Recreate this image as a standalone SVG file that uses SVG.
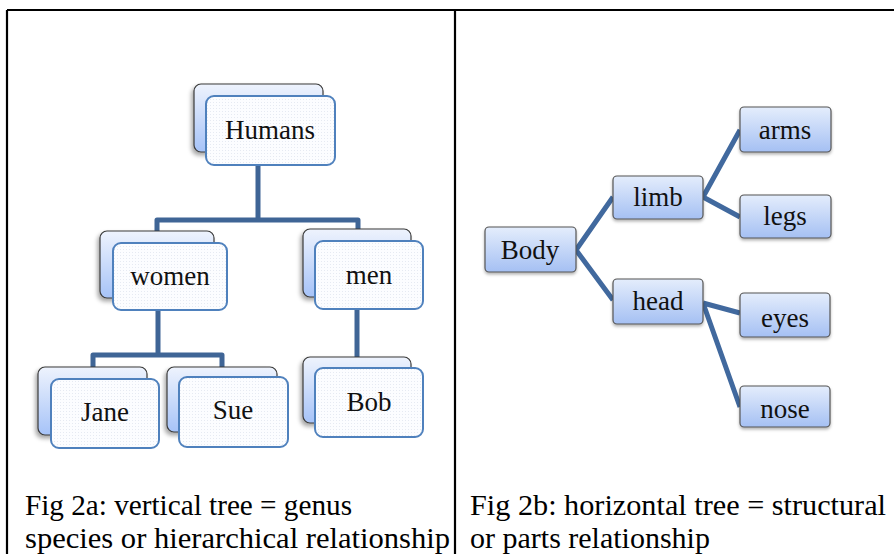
<svg xmlns="http://www.w3.org/2000/svg" width="894" height="554" viewBox="0 0 894 554">
<style>
.frame{stroke:#000;stroke-width:2.2;fill:none}
.t{font-family:'Liberation Serif','Times New Roman',serif;font-size:27px;fill:#111;text-anchor:middle}
.cap{font-family:'Liberation Serif','Times New Roman',serif;font-size:30px;fill:#000}
.back{fill:url(#gBack);stroke:#3a3a3a;stroke-width:1.2;filter:url(#sh)}
.front{fill:url(#dots);stroke:#4f81bd;stroke-width:2}
.box{fill:url(#gBox);stroke:#555;stroke-width:1.2;filter:url(#sh2)}
.cl{fill:none;stroke:#3f6596;stroke-width:5;stroke-linejoin:round}
.cr{fill:none;stroke:#41699e;stroke-width:5;stroke-linecap:butt}
</style>
<defs>
<linearGradient id="gBack" x1="0" y1="0" x2="0" y2="1">
<stop offset="0" stop-color="#eef3fd"/><stop offset="1" stop-color="#a6c3f8"/>
</linearGradient>
<linearGradient id="gBox" x1="0" y1="0" x2="0" y2="1">
<stop offset="0" stop-color="#e4edfc"/><stop offset="1" stop-color="#a5c0f3"/>
</linearGradient>
<pattern id="dots" width="3" height="3" patternUnits="userSpaceOnUse">
<rect width="3" height="3" fill="#fcfdff"/><rect width="1" height="1" fill="#e6eaf2"/>
</pattern>
<filter id="sh" x="-20%" y="-20%" width="140%" height="150%">
<feDropShadow dx="-2" dy="3" stdDeviation="2" flood-color="#000" flood-opacity="0.35"/>
</filter>
<filter id="sh2" x="-20%" y="-20%" width="140%" height="150%">
<feDropShadow dx="0" dy="2" stdDeviation="1.5" flood-color="#000" flood-opacity="0.3"/>
</filter>
</defs>
<rect width="894" height="554" fill="#fff"/>
<g id="frame">
<path class="frame" d="M7,10 H894 M7,10 V554 M455,10 V554"/>
</g>
<g id="connectors">
<path class="cl" d="M258,160 V220 M157,234 V220 H358 V234"/>
<path class="cl" d="M158,305 V355 M93,370 V355 H222 V370"/>
<path class="cl" d="M357,305 V360"/>
<path class="cr" d="M576,250 L613,197 M576,250 L613,300"/>
<path class="cr" d="M703,197 L740,130 M703,197 L740,217"/>
<path class="cr" d="M703,303 L740,313 M703,303 L740,407"/>
</g>
<g id="humans">
<rect class="back" x="194" y="84" width="129" height="68" rx="7"/>
<rect class="front" x="206" y="96" width="129" height="69" rx="8"/>
<text class="t" x="270" y="139">Humans</text>
</g>
<g id="women">
<rect class="back" x="100" y="231" width="114" height="67" rx="7"/>
<rect class="front" x="113" y="243" width="114" height="67" rx="8"/>
<text class="t" x="170" y="285">women</text>
</g>
<g id="men">
<rect class="back" x="303" y="229" width="108" height="68" rx="7"/>
<rect class="front" x="315" y="241" width="108" height="68" rx="8"/>
<text class="t" x="369" y="284">men</text>
</g>
<g id="jane">
<rect class="back" x="38" y="367" width="109" height="68" rx="7"/>
<rect class="front" x="51" y="379" width="108" height="69" rx="8"/>
<text class="t" x="105" y="421">Jane</text>
</g>
<g id="sue">
<rect class="back" x="167" y="367" width="110" height="65" rx="7"/>
<rect class="front" x="179" y="377" width="109" height="70" rx="8"/>
<text class="t" x="233" y="419">Sue</text>
</g>
<g id="bob">
<rect class="back" x="303" y="357" width="108" height="66" rx="7"/>
<rect class="front" x="315" y="368" width="108" height="69" rx="8"/>
<text class="t" x="369" y="411">Bob</text>
</g>
<g id="body">
<rect class="box" x="485" y="227" width="91" height="45" rx="4"/>
<text class="t" x="530" y="259">Body</text>
</g>
<g id="limb">
<rect class="box" x="613" y="176" width="90" height="43" rx="4"/>
<text class="t" x="658" y="206">limb</text>
</g>
<g id="head">
<rect class="box" x="613" y="279" width="90" height="45" rx="4"/>
<text class="t" x="658" y="310">head</text>
</g>
<g id="arms">
<rect class="box" x="740" y="107" width="91" height="45" rx="4"/>
<text class="t" x="785" y="139">arms</text>
</g>
<g id="legs">
<rect class="box" x="740" y="195" width="91" height="43" rx="4"/>
<text class="t" x="785" y="225">legs</text>
</g>
<g id="eyes">
<rect class="box" x="740" y="293" width="90" height="44" rx="4"/>
<text class="t" x="785" y="327">eyes</text>
</g>
<g id="nose">
<rect class="box" x="740" y="386" width="90" height="41" rx="4"/>
<text class="t" x="785" y="418">nose</text>
</g>
<g id="captions">
<text class="cap" x="25" y="515" textLength="327" lengthAdjust="spacingAndGlyphs">Fig 2a: vertical tree = genus</text>
<text class="cap" x="25" y="548" textLength="425" lengthAdjust="spacingAndGlyphs">species or hierarchical relationship</text>
<text class="cap" x="470" y="515" textLength="416" lengthAdjust="spacingAndGlyphs">Fig 2b: horizontal tree = structural</text>
<text class="cap" x="470" y="548">or parts relationship</text>
</g>
</svg>
